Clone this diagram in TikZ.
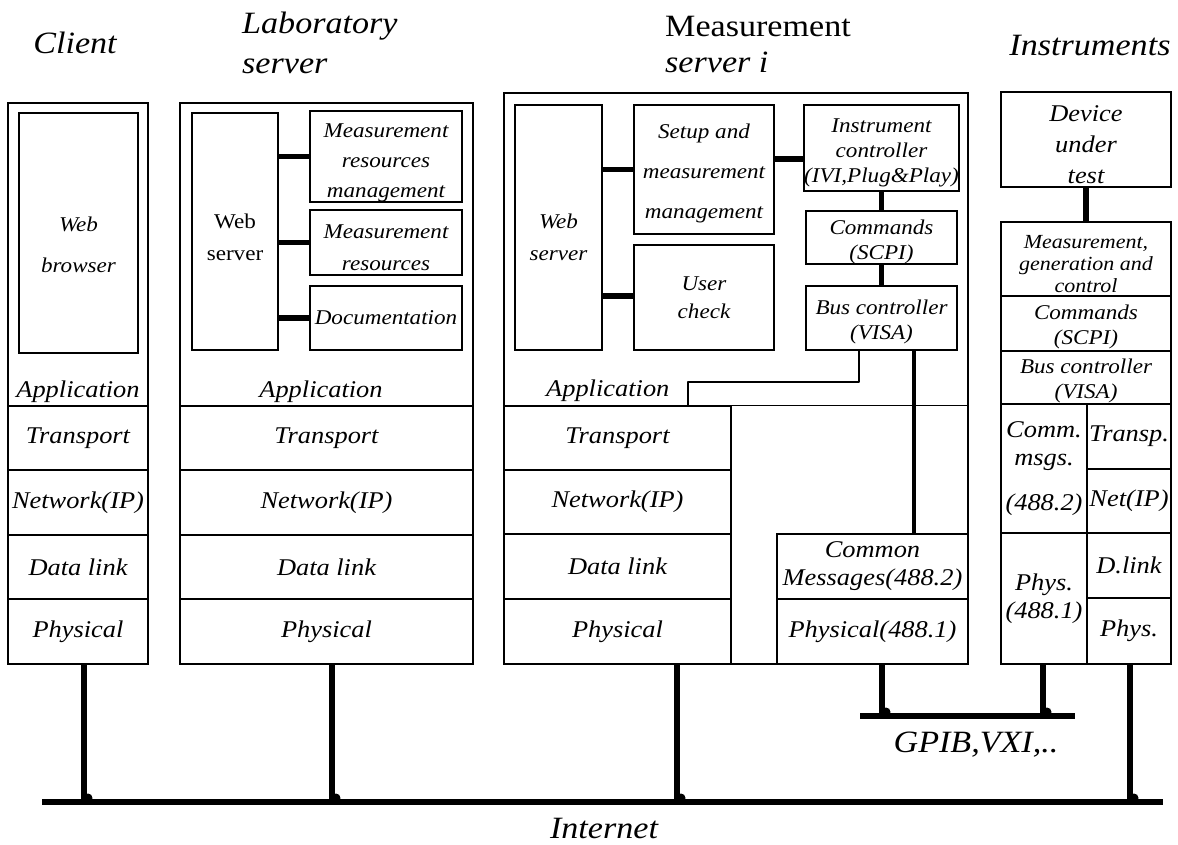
\documentclass[tikz,border=0pt]{standalone}
\usepackage{fontspec}
\setmainfont{Liberation Serif}[FakeStretch=1.1]
\newcommand\topgap[1]{\rule{0pt}{#1}}

\begin{document}
\begin{tikzpicture}[x=1pt,y=-1pt,
  cell/.style 2 args={minimum width=#1pt,minimum height=#2pt},
  frame/.style={draw,line width=2.2pt,inner sep=0pt},
  layer/.style={draw,line width=1.5pt,inner sep=0pt,align=center,
    font=\fontsize{24}{28}\selectfont\itshape},
  box/.style={draw,line width=1.5pt,inner sep=0pt,align=center,
    font=\fontsize{21}{25}\selectfont\itshape},
  heading/.style={inner sep=0pt,align=left,
    font=\fontsize{31}{40}\selectfont\itshape},
  tag/.style={inner sep=0pt,font=\fontsize{24}{28}\selectfont\itshape},
  link/.style={line width=5.5pt},
  wire/.style={line width=2.5pt,line join=round},
  bus/.style={line width=5.5pt}
]
\useasboundingbox (0,0) rectangle (1178,844);

% headings
\node[heading,anchor=base] (hClient) at (75,53) {Client};
\node[heading,anchor=north west] (hLab) at (242,12) {Laboratory\\server};
\node[heading,anchor=north west,font=\fontsize{31}{36}\selectfont]
  (hMeas) at (665,16) {Measurement\\\itshape server i};
\node[heading,anchor=base] (hInst) at (1090,55) {Instruments};

% client
\node[frame,cell={140}{561}] (client) at (78,383.5) {};
\node[box,cell={119}{240}] (cBrowser) at (78.5,233)
  {\topgap{38pt}Web\\[16pt]browser};
\node[tag,anchor=base] (cApp) at (78,397) {Application};
\node[layer,cell={140}{64}] (cTrans) at (78,438) {Transport};
\node[layer,cell={140}{65}] (cNet) at (78,502.5) {Network(IP)};
\node[layer,cell={140}{64}] (cLink) at (78,567) {Data link};
\node[layer,cell={140}{65}] (cPhys) at (78,631.5) {Physical};

% laboratory server
\node[frame,cell={293}{561}] (lab) at (326.5,383.5) {};
\node[box,cell={86}{237},font=\fontsize{21}{25}\selectfont]
  (lWeb) at (235,231.5) {\topgap{27pt}Web\\[7pt]server};
\node[box,cell={152}{87}] (lMgmt) at (386,156.5)
  {\topgap{27pt}Measurement\\[5pt]resources\\[5pt]management};
\node[box,cell={152}{65}] (lRes) at (386,242.5)
  {\topgap{25pt}Measurement\\[7pt]resources};
\node[box,cell={152}{64}] (lDoc) at (386,318) {Documentation};
\node[tag,anchor=base] (lApp) at (321,397) {Application};
\node[layer,cell={293}{64}] (lTrans) at (326.5,438) {Transport};
\node[layer,cell={293}{65}] (lNet) at (326.5,502.5) {Network(IP)};
\node[layer,cell={293}{64}] (lLink) at (326.5,567) {Data link};
\node[layer,cell={293}{65}] (lPhys) at (326.5,631.5) {Physical};

\draw[link] (lWeb.east |- lMgmt) -- (lMgmt.west);
\draw[link] (lWeb.east |- lRes) -- (lRes.west);
\draw[link] (lWeb.east |- lDoc) -- (lDoc.west);

% measurement server
\node[frame,cell={464}{571}] (meas) at (736,378.5) {};
\node[box,cell={87}{245}] (mWeb) at (558.5,227.5)
  {\topgap{35pt}Web\\[7pt]server};
\node[box,cell={140}{129}] (mSetup) at (704,169.5)
  {\topgap{23pt}Setup and\\[15pt]measurement\\[15pt]management};
\node[box,cell={140}{105}] (mUser) at (704,297.5) {User\\[3pt]check};
\node[box,cell={151}{86}] (mInstr) at (881.5,148)
  {\topgap{23pt}Instrument\\controller\\(IVI,Plug\&Play)};
\node[box,cell={151}{53}] (mCmd) at (881.5,237.5)
  {\topgap{23pt}Commands\\(SCPI)};
\node[box,cell={151}{64}] (mBus) at (881.5,318)
  {\topgap{23pt}Bus controller\\(VISA)};
\node[tag,anchor=base west] (mApp) at (546,396) {Application};
\draw[line width=1.5pt] (meas.west |- mApp.south) ++(0,4) coordinate (appL)
  -- (appL -| meas.east);
\node[layer,cell={227}{64}] (mTrans) at (617.5,438) {Transport};
\node[layer,cell={227}{64}] (mNet) at (617.5,502) {Network(IP)};
\node[layer,cell={227}{65}] (mLink) at (617.5,566.5) {Data link};
\node[layer,cell={227}{65}] (mPhys) at (617.5,631.5) {Physical};
\node[layer,cell={191}{65}] (mMsg) at (872.5,566.5)
  {Common\\Messages(488.2)};
\node[layer,cell={191}{65}] (mPhysG) at (872.5,631.5) {Physical(488.1)};

\draw[link] (mWeb.east |- mSetup) -- (mSetup.west);
\draw[link] (mWeb.east |- 0,296) -- (mUser.west |- 0,296);
\draw[link] (mSetup.east |- 0,159) -- (mInstr.west |- 0,159);
\draw[link,line width=4.5pt] (mInstr) -- (mCmd);
\draw[link,line width=4.5pt] (mCmd) -- (mBus);
\coordinate (appIn) at (688,406);
\draw[wire] ([xshift=-22.5pt]mBus.south) |- (appIn |- 0,382) -- (appIn);
\draw[link,line width=4pt] ([xshift=32.5pt]mBus.south)
  -- ([xshift=32.5pt]mBus.south |- mMsg.north);

% instruments
\node[frame,cell={170}{95}] (dut) at (1086,139.5) {};
\node[layer,draw=none] at (dut) {\topgap{27pt}Device\\[3pt]under\\[3pt]test};
\node[frame,cell={170}{442}] (inst) at (1086,443) {};
\node[box,cell={170}{74},font=\fontsize{20}{22}\selectfont\itshape]
  (iMeas) at (1086,259) {\topgap{24pt}Measurement,\\generation and\\control};
\node[box,cell={170}{55}] (iCmd) at (1086,323.5)
  {\topgap{21pt}Commands\\(SCPI)};
\node[box,cell={170}{53}] (iBus) at (1086,377.5)
  {\topgap{21pt}Bus controller\\(VISA)};
\node[layer,cell={86}{129}] (iComm) at (1044,468.5)
  {Comm.\\msgs.\\[17pt](488.2)};
\node[layer,cell={86}{131}] (iPhysG) at (1044,598.5) {Phys.\\(488.1)};
\node[layer,cell={84}{65}] (iTrans) at (1129,436.5) {Transp.};
\node[layer,cell={84}{64}] (iNet) at (1129,501) {Net(IP)};
\node[layer,cell={84}{65}] (iLink) at (1129,565.5) {D.link};
\node[layer,cell={84}{66}] (iPhys) at (1129,631) {Phys.};
\draw[link] (dut) -- (iMeas);

% networks
\coordinate (netL) at (42,802);
\coordinate (netR) at (1163,802);
\coordinate (gpibL) at (860,716);
\coordinate (gpibR) at (1075,716);
\coordinate (tapC) at (84,802);
\coordinate (tapL) at (332,802);
\coordinate (tapM) at (677,802);
\coordinate (tapI) at (1130,802);
\coordinate (tapG) at (882,716);
\coordinate (tapH) at (1043,716);

\draw[bus] (cPhys.south -| tapC) -- (tapC);
\draw[bus] (lPhys.south -| tapL) -- (tapL);
\draw[bus] (meas.south -| tapM) -- (tapM);
\draw[bus] (iPhys.south -| tapI) -- (tapI);
\draw[bus] (mPhysG.south -| tapG) -- (tapG);
\draw[bus] (iPhysG.south -| tapH) -- (tapH);
\draw[bus] (netL) -- (netR);
\draw[bus] (gpibL) -- (gpibR);
\foreach \t in {tapC,tapL,tapM,tapI,tapG,tapH}
  \fill (\t) ++(4,-4) circle (4.5pt);

\node[heading,anchor=base] (gpib) at (976,752) {GPIB,VXI,..};
\node[heading,anchor=base] (inet) at (604,838) {Internet};
\end{tikzpicture}
\end{document}
